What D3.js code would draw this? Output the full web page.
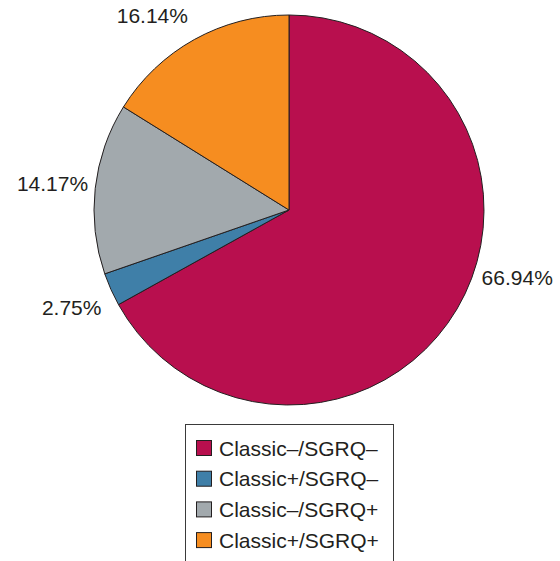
<!DOCTYPE html>
<html>
<head>
<meta charset="utf-8">
<script src="https://cdn.jsdelivr.net/npm/d3@7"></script>
<style>
  body { margin: 0; background: #fff; }
  svg { display: block; font-family: "Liberation Sans", Arial, sans-serif; }
</style>
</head>
<body>
<svg width="560" height="561"></svg>
<script>
// values
var categories = ["Classic\u2013/SGRQ\u2013", "Classic+/SGRQ\u2013", "Classic\u2013/SGRQ+", "Classic+/SGRQ+"];
var values = [66.94, 2.75, 14.17, 16.14];
var colors = ["#b80f4e", "#3f7fa8", "#a2a9ad", "#f68d20"];

// small hand nudges for where the labels sit (degrees)
var labelShift = [-14, 0, 0, -6];

var svg = d3.select("svg");
var cx = 289, cy = 210, r = 195;

var pie = d3.pie().sort(null).value(function(d) { return d; });
var arc = d3.arc().innerRadius(0).outerRadius(r);
var arcs = pie(values);

var g = svg.append("g").attr("transform", "translate(" + cx + "," + cy + ")");

g.selectAll("path.slice")
  .data(arcs)
  .enter().append("path")
  .attr("class", "slice")
  .attr("d", arc)
  .attr("fill", function(d, i) { return colors[i]; })
  .attr("stroke", "#231f20")
  .attr("stroke-width", 1);

// percentage labels outside
var labelR = 238;
g.selectAll("text.lab")
  .data(arcs)
  .enter().append("text")
  .attr("class", "lab")
  .attr("x", function(d, i) {
    var a = (d.startAngle + d.endAngle) / 2 + labelShift[i] * Math.PI / 180;
    return Math.sin(a) * labelR;
  })
  .attr("y", function(d, i) {
    var a = (d.startAngle + d.endAngle) / 2 + labelShift[i] * Math.PI / 180;
    return -Math.cos(a) * labelR;
  })
  .attr("text-anchor", "middle")
  .attr("dy", "0.36em")
  .attr("font-size", 21)
  .attr("fill", "#231f20")
  .text(function(d) { return d.data.toFixed(2) + "%"; });

// legend
var lx = 185, ly = 424, rowH = 30.7;
var legend = svg.append("g");
legend.append("rect")
  .attr("x", lx + 0.5).attr("y", ly + 0.5)
  .attr("width", 208).attr("height", 160)
  .attr("fill", "#fff")
  .attr("stroke", "#3a3a3a")
  .attr("stroke-width", 1);

var rows = legend.selectAll("g.row")
  .data(categories)
  .enter().append("g")
  .attr("class", "row")
  .attr("transform", function(d, i) { return "translate(" + (lx + 11) + "," + (ly + 24 + i * rowH) + ")"; });

rows.append("rect")
  .attr("x", 0.5).attr("y", -7.5)
  .attr("width", 15).attr("height", 15)
  .attr("fill", function(d, i) { return colors[i]; })
  .attr("stroke", "#231f20");

rows.append("text")
  .attr("x", 23)
  .attr("dy", "0.36em")
  .attr("font-size", 21)
  .attr("fill", "#231f20")
  .text(function(d) { return d; });
</script>
</body>
</html>
